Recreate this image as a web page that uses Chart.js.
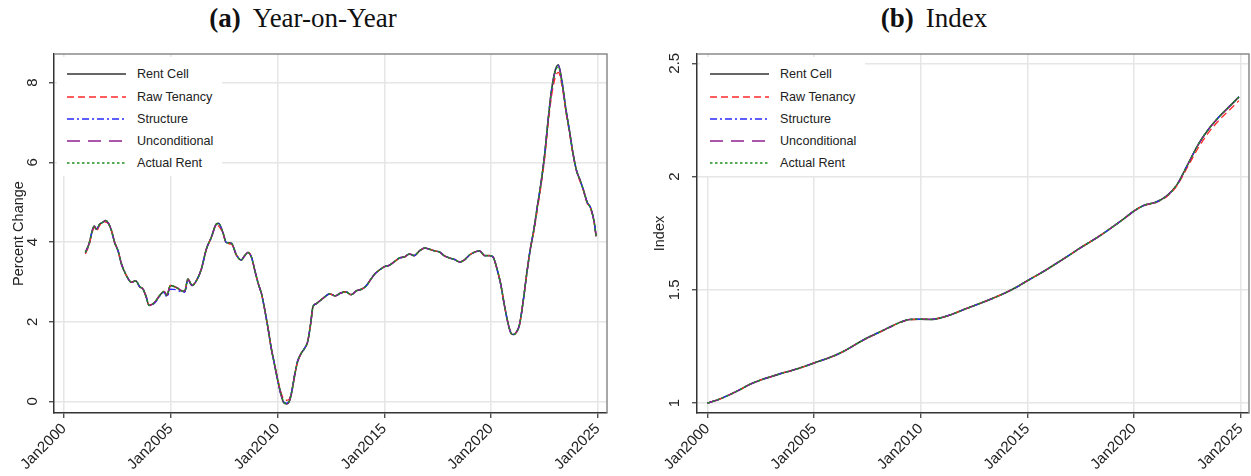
<!DOCTYPE html>
<html>
<head>
<meta charset="utf-8">
<script src="https://cdn.jsdelivr.net/npm/chart.js@4.4.1/dist/chart.umd.min.js"></script>
<style>
  html, body { margin: 0; padding: 0; background: #fff; }
  body { width: 1251px; height: 476px; position: relative; overflow: hidden; font-family: 'Liberation Sans', Arial, sans-serif; }
  .panel-title { position: absolute; top: 2px; font-family: 'Liberation Serif', 'Times New Roman', serif; font-size: 27px; line-height: 32px; color: #111; white-space: nowrap; transform: translateX(-50%); }
  .panel-title b { margin-right: 0.45em; }
  canvas { position: absolute; top: 40px; }
  .legend { position: absolute; width: 165px; height: 119px; background: #fff; }
  .legend-row { position: absolute; left: 0; width: 165px; height: 22px; }
  .legend-row svg { position: absolute; left: 10px; top: 9px; }
  .legend-row span { position: absolute; left: 80px; top: 0; line-height: 22px; font-size: 12.6px; color: #222; white-space: nowrap; }
</style>
</head>
<body>
<div class="panel-title" style="left:303px"><b>(a)</b>Year-on-Year</div>
<div class="panel-title" style="left:934px"><b>(b)</b>Index</div>
<canvas id="yoyChart" width="620" height="436" style="left:0"></canvas>
<canvas id="indexChart" width="621" height="436" style="left:630px"></canvas>

<script>
// Series
const seriesNames = ['Rent Cell', 'Raw Tenancy', 'Structure', 'Unconditional', 'Actual Rent'];
const seriesColors = ['#333333', '#ff2a2a', '#2a2aff', '#8e1f8e', '#1f8f1f'];
const seriesDash = [[], [7, 4], [7, 3, 2, 3], [13, 8], [2.5, 2.5]];
const seriesWidths = [1.6, 1.3, 1.3, 1.3, 1.4];

// (a) Year-on-Year, percent change (dates in decimal years)
const yoyDates = [
  2001.00, 2001.17, 2001.33, 2001.42, 2001.52, 2001.67, 2001.83, 2001.94,
  2002.10, 2002.22, 2002.37, 2002.53, 2002.69, 2002.92,
  2003.16, 2003.36, 2003.54, 2003.70, 2003.85, 2003.98,
  2004.25, 2004.48, 2004.68, 2004.82, 2004.98,
  2005.26, 2005.50, 2005.65, 2005.80,
  2006.00, 2006.20, 2006.43, 2006.67, 2006.90,
  2007.13, 2007.24, 2007.44, 2007.60, 2007.84,
  2008.07, 2008.30, 2008.45, 2008.61, 2008.78, 2008.93,
  2009.10, 2009.25, 2009.40, 2009.55, 2009.70, 2009.85,
  2010.00, 2010.15, 2010.30, 2010.42, 2010.55, 2010.67, 2010.80, 2010.94,
  2011.10, 2011.25, 2011.41, 2011.55, 2011.66, 2011.80, 2011.97,
  2012.20, 2012.44, 2012.70, 2012.95,
  2013.20, 2013.45, 2013.70, 2013.95,
  2014.15, 2014.35, 2014.55, 2014.78,
  2015.00, 2015.24, 2015.50, 2015.71, 2015.95,
  2016.18, 2016.40, 2016.65, 2016.90,
  2017.12, 2017.35, 2017.59, 2017.80,
  2018.06, 2018.30, 2018.53, 2018.75,
  2019.00, 2019.20, 2019.46, 2019.70, 2019.93,
  2020.10, 2020.25, 2020.45, 2020.63, 2020.80, 2020.95,
  2021.05, 2021.20, 2021.33, 2021.50, 2021.67, 2021.83,
  2022.00, 2022.17, 2022.33, 2022.50, 2022.67, 2022.83,
  2023.00, 2023.15, 2023.33, 2023.50, 2023.67, 2023.83,
  2024.00, 2024.17, 2024.33, 2024.50, 2024.67, 2024.83, 2024.92
];
const yoyRentCell = [
  3.74, 3.95, 4.30, 4.40, 4.32, 4.45, 4.50, 4.54,
  4.45, 4.29, 3.99, 3.78, 3.45, 3.16,
  2.99, 3.03, 2.88, 2.82, 2.62, 2.41,
  2.49, 2.66, 2.76, 2.66, 2.91,
  2.86, 2.78, 2.76, 3.07,
  2.91, 3.03, 3.32, 3.83, 4.12,
  4.45, 4.47, 4.24, 3.99, 3.97,
  3.68, 3.55, 3.65, 3.74, 3.62, 3.30,
  2.95, 2.70, 2.30, 1.85, 1.35, 0.95,
  0.55, 0.20, -0.04, -0.06, 0.00, 0.25, 0.65, 1.00,
  1.20, 1.32, 1.50, 1.95, 2.38, 2.45, 2.52,
  2.62, 2.70, 2.65, 2.72,
  2.75, 2.68, 2.78, 2.82,
  2.90, 3.05, 3.20, 3.30,
  3.38, 3.42, 3.52, 3.60, 3.63,
  3.70, 3.66, 3.78, 3.85,
  3.82, 3.78, 3.75, 3.66,
  3.60, 3.56, 3.50, 3.55,
  3.68, 3.74, 3.78, 3.66, 3.66,
  3.62, 3.38, 2.95, 2.40, 1.95, 1.70,
  1.68, 1.75, 1.92, 2.50, 3.20, 3.80,
  4.30, 4.90, 5.45, 6.15, 7.05, 7.80,
  8.30, 8.45, 8.00, 7.35, 6.80, 6.25,
  5.80, 5.55, 5.30, 5.00, 4.85, 4.50, 4.15
];
const yoyRawTenancy = [
  3.70, 3.92, 4.26, 4.36, 4.28, 4.42, 4.47, 4.50,
  4.45, 4.29, 3.99, 3.78, 3.45, 3.16,
  2.99, 3.03, 2.88, 2.82, 2.62, 2.41,
  2.49, 2.66, 2.76, 2.66, 2.91,
  2.86, 2.78, 2.76, 3.07,
  2.91, 3.03, 3.32, 3.83, 4.12,
  4.42, 4.40, 4.22, 3.97, 3.95,
  3.68, 3.55, 3.65, 3.74, 3.62, 3.30,
  2.95, 2.70, 2.30, 1.85, 1.35, 0.95,
  0.58, 0.25, 0.05, 0.03, 0.06, 0.28, 0.66, 1.00,
  1.20, 1.32, 1.50, 1.95, 2.38, 2.45, 2.52,
  2.62, 2.70, 2.65, 2.72,
  2.75, 2.68, 2.78, 2.82,
  2.90, 3.05, 3.20, 3.30,
  3.38, 3.42, 3.52, 3.60, 3.63,
  3.70, 3.66, 3.78, 3.85,
  3.82, 3.78, 3.75, 3.66,
  3.60, 3.56, 3.50, 3.55,
  3.68, 3.74, 3.78, 3.66, 3.66,
  3.62, 3.38, 2.95, 2.40, 1.95, 1.70,
  1.68, 1.75, 1.92, 2.50, 3.20, 3.80,
  4.25, 4.82, 5.38, 6.05, 6.95, 7.65,
  8.12, 8.26, 7.90, 7.28, 6.75, 6.22,
  5.78, 5.52, 5.28, 4.98, 4.83, 4.48, 4.12
];
const yoyStructure = [
  3.74, 3.95, 4.30, 4.40, 4.32, 4.45, 4.50, 4.54,
  4.45, 4.29, 3.99, 3.78, 3.45, 3.16,
  2.99, 3.03, 2.88, 2.82, 2.62, 2.41,
  2.47, 2.64, 2.74, 2.62, 2.82,
  2.80, 2.75, 2.74, 3.04,
  2.91, 3.03, 3.32, 3.83, 4.12,
  4.45, 4.47, 4.24, 3.99, 3.97,
  3.68, 3.55, 3.65, 3.74, 3.62, 3.30,
  2.95, 2.70, 2.30, 1.85, 1.35, 0.95,
  0.55, 0.18, -0.02, -0.04, 0.02, 0.28, 0.68, 1.02,
  1.20, 1.32, 1.50, 1.95, 2.38, 2.45, 2.52,
  2.62, 2.70, 2.65, 2.72,
  2.75, 2.68, 2.78, 2.82,
  2.90, 3.05, 3.20, 3.30,
  3.38, 3.42, 3.52, 3.60, 3.63,
  3.70, 3.66, 3.78, 3.85,
  3.82, 3.78, 3.75, 3.66,
  3.60, 3.56, 3.50, 3.55,
  3.68, 3.74, 3.78, 3.66, 3.66,
  3.62, 3.38, 2.95, 2.40, 1.95, 1.70,
  1.68, 1.75, 1.92, 2.50, 3.20, 3.80,
  4.30, 4.90, 5.45, 6.15, 7.05, 7.80,
  8.28, 8.43, 8.00, 7.35, 6.80, 6.25,
  5.80, 5.55, 5.30, 5.00, 4.85, 4.50, 4.15
];
const yoyUnconditional = [
  3.74, 3.95, 4.30, 4.40, 4.32, 4.45, 4.50, 4.54,
  4.45, 4.29, 3.99, 3.78, 3.45, 3.16,
  2.99, 3.03, 2.88, 2.82, 2.62, 2.41,
  2.49, 2.66, 2.76, 2.66, 2.91,
  2.86, 2.78, 2.76, 3.07,
  2.91, 3.03, 3.32, 3.83, 4.12,
  4.45, 4.47, 4.24, 3.99, 3.97,
  3.68, 3.55, 3.65, 3.74, 3.62, 3.30,
  2.95, 2.70, 2.30, 1.85, 1.35, 0.95,
  0.55, 0.20, -0.04, -0.06, 0.00, 0.25, 0.65, 1.00,
  1.20, 1.32, 1.50, 1.95, 2.38, 2.45, 2.52,
  2.62, 2.70, 2.65, 2.72,
  2.75, 2.68, 2.78, 2.82,
  2.90, 3.05, 3.20, 3.30,
  3.38, 3.42, 3.52, 3.60, 3.63,
  3.70, 3.66, 3.78, 3.85,
  3.82, 3.78, 3.75, 3.66,
  3.60, 3.56, 3.50, 3.55,
  3.68, 3.74, 3.78, 3.66, 3.66,
  3.62, 3.38, 2.95, 2.40, 1.95, 1.70,
  1.68, 1.75, 1.92, 2.50, 3.20, 3.80,
  4.30, 4.90, 5.45, 6.15, 7.05, 7.80,
  8.28, 8.42, 7.98, 7.34, 6.80, 6.25,
  5.80, 5.55, 5.30, 5.00, 4.85, 4.50, 4.15
];
const yoyActualRent = [
  3.74, 3.95, 4.30, 4.40, 4.32, 4.45, 4.50, 4.54,
  4.45, 4.29, 3.99, 3.78, 3.45, 3.16,
  2.99, 3.03, 2.88, 2.82, 2.62, 2.41,
  2.49, 2.66, 2.76, 2.66, 2.91,
  2.86, 2.78, 2.76, 3.07,
  2.91, 3.03, 3.32, 3.83, 4.12,
  4.45, 4.47, 4.24, 3.99, 3.97,
  3.68, 3.55, 3.65, 3.74, 3.62, 3.30,
  2.95, 2.70, 2.30, 1.85, 1.35, 0.95,
  0.56, 0.22, -0.02, -0.05, 0.01, 0.26, 0.66, 1.01,
  1.20, 1.32, 1.50, 1.95, 2.38, 2.45, 2.52,
  2.62, 2.70, 2.65, 2.72,
  2.75, 2.68, 2.78, 2.82,
  2.90, 3.05, 3.20, 3.30,
  3.38, 3.42, 3.52, 3.60, 3.63,
  3.70, 3.66, 3.78, 3.85,
  3.82, 3.78, 3.75, 3.66,
  3.60, 3.56, 3.50, 3.55,
  3.68, 3.74, 3.78, 3.66, 3.66,
  3.62, 3.38, 2.95, 2.40, 1.95, 1.70,
  1.68, 1.75, 1.92, 2.50, 3.20, 3.80,
  4.30, 4.90, 5.45, 6.15, 7.05, 7.80,
  8.27, 8.40, 7.98, 7.33, 6.79, 6.24,
  5.80, 5.55, 5.30, 5.00, 4.85, 4.50, 4.15
];

// (b) Index, Jan2000 = 1
const indexDates = [
  2000.0, 2000.5, 2001.0, 2001.5, 2002.0, 2002.5, 2003.0, 2003.5, 2004.0, 2004.5,
  2005.0, 2005.5, 2006.0, 2006.5, 2007.0, 2007.5, 2008.0, 2008.5, 2009.0, 2009.5,
  2010.0, 2010.5, 2011.0, 2011.5, 2012.0, 2012.5, 2013.0, 2013.5, 2014.0, 2014.5,
  2015.0, 2015.5, 2016.0, 2016.5, 2017.0, 2017.5, 2018.0, 2018.5, 2019.0, 2019.5,
  2020.0, 2020.5, 2021.0, 2021.5, 2022.0, 2022.5, 2023.0, 2023.5, 2024.0, 2024.5,
  2024.92
];
const idxRentCell = [
  1.000, 1.015, 1.035, 1.058, 1.083, 1.102, 1.117, 1.132, 1.145, 1.160,
  1.177, 1.193, 1.211, 1.234, 1.262, 1.288, 1.310, 1.333, 1.355, 1.369,
  1.370, 1.369, 1.378, 1.393, 1.412, 1.430, 1.448, 1.467, 1.488, 1.512,
  1.540, 1.567, 1.595, 1.625, 1.655, 1.686, 1.715, 1.745, 1.778, 1.812,
  1.848, 1.874, 1.886, 1.912, 1.962, 2.050, 2.140, 2.210, 2.265, 2.312,
  2.352
];
const idxRawTenancy = [
  1.000, 1.015, 1.035, 1.058, 1.083, 1.102, 1.117, 1.132, 1.145, 1.160,
  1.177, 1.193, 1.211, 1.234, 1.261, 1.287, 1.309, 1.332, 1.354, 1.368,
  1.370, 1.369, 1.378, 1.393, 1.412, 1.430, 1.448, 1.467, 1.488, 1.512,
  1.540, 1.567, 1.595, 1.625, 1.655, 1.686, 1.715, 1.745, 1.778, 1.812,
  1.848, 1.873, 1.884, 1.909, 1.958, 2.040, 2.125, 2.195, 2.250, 2.296,
  2.335
];
const idxStructure = [
  1.000, 1.015, 1.035, 1.058, 1.083, 1.102, 1.117, 1.132, 1.145, 1.160,
  1.177, 1.193, 1.211, 1.234, 1.262, 1.288, 1.310, 1.333, 1.355, 1.369,
  1.370, 1.369, 1.378, 1.393, 1.412, 1.430, 1.448, 1.467, 1.488, 1.512,
  1.540, 1.567, 1.595, 1.625, 1.655, 1.686, 1.715, 1.745, 1.778, 1.812,
  1.848, 1.874, 1.886, 1.912, 1.962, 2.050, 2.140, 2.210, 2.265, 2.312,
  2.352
];
const idxUnconditional = [
  1.000, 1.015, 1.035, 1.058, 1.083, 1.102, 1.117, 1.132, 1.145, 1.160,
  1.177, 1.193, 1.211, 1.234, 1.262, 1.288, 1.310, 1.333, 1.355, 1.369,
  1.370, 1.369, 1.378, 1.393, 1.412, 1.430, 1.448, 1.467, 1.488, 1.512,
  1.540, 1.567, 1.595, 1.625, 1.655, 1.686, 1.715, 1.745, 1.778, 1.812,
  1.848, 1.874, 1.886, 1.912, 1.962, 2.049, 2.139, 2.209, 2.264, 2.311,
  2.351
];
const idxActualRent = [
  1.000, 1.015, 1.035, 1.058, 1.083, 1.102, 1.117, 1.132, 1.145, 1.160,
  1.177, 1.193, 1.211, 1.234, 1.262, 1.288, 1.310, 1.333, 1.355, 1.369,
  1.370, 1.369, 1.378, 1.393, 1.412, 1.430, 1.448, 1.467, 1.488, 1.512,
  1.540, 1.567, 1.595, 1.625, 1.655, 1.686, 1.715, 1.745, 1.778, 1.812,
  1.848, 1.874, 1.886, 1.912, 1.962, 2.050, 2.140, 2.210, 2.265, 2.312,
  2.352
];

// Tick spacing
const yearTickStep = 5;
const yoyTickStep = 2;
const indexTickStep = 0.5;

Chart.defaults.font.family = "'Liberation Sans', Arial, sans-serif";
Chart.defaults.color = '#222';

// top and right edges of the plot region
const frameLines = {
    id: 'frameLines',
    afterDraw(chart) {
        const { ctx, chartArea: a } = chart;
        ctx.save();
        ctx.strokeStyle = '#8a8a8a';
        ctx.lineWidth = 1.5;
        ctx.beginPath();
        ctx.moveTo(a.left, a.top);
        ctx.lineTo(a.right, a.top);
        ctx.lineTo(a.right, a.bottom);
        ctx.stroke();
        ctx.restore();
    }
};

function buildDatasets(valueLists) {
    return valueLists.map((vals, i) => ({
        label: seriesNames[i],
        data: vals,
        borderColor: seriesColors[i],
        borderDash: seriesDash[i],
        borderWidth: seriesWidths[i],
        pointRadius: 0,
        fill: false,
        cubicInterpolationMode: 'monotone',
        order: seriesNames.length - i
    }));
}

function makeChart(canvasId, labels, valueLists, cfg) {
    const gridOpts = { color: '#e6e6e6', lineWidth: 1.5, tickColor: '#333', tickLength: 5, tickWidth: 1.2 };
    return new Chart(document.getElementById(canvasId), {
        type: 'line',
        data: { labels: labels, datasets: buildDatasets(valueLists) },
        plugins: [frameLines],
        options: {
            responsive: false,
            animation: false,
            events: [],
            layout: { padding: { top: 14, right: cfg.padRight, left: 0, bottom: 0 } },
            plugins: { legend: { display: false }, tooltip: { enabled: false } },
            scales: {
                x: {
                    type: 'linear',
                    min: cfg.xMin,
                    max: cfg.xMax,
                    afterFit: s => {
                        s.height = 63;
                        s.paddingLeft = 0;
                        s.paddingRight = 0;
                    },
                    grid: gridOpts,
                    border: { color: '#333', width: 1.5 },
                    ticks: {
                        stepSize: yearTickStep,
                        includeBounds: false,
                        autoSkip: false,
                        minRotation: 45,
                        maxRotation: 45,
                        padding: 2,
                        font: { size: 15 },
                        callback: v => 'Jan' + v
                    }
                },
                y: {
                    min: cfg.yMin,
                    max: cfg.yMax,
                    afterFit: s => {
                        s.width = cfg.yWidth;
                        s.paddingTop = 0;
                        s.paddingBottom = 0;
                    },
                    grid: gridOpts,
                    border: { color: '#333', width: 1.5 },
                    title: {
                        display: true,
                        text: cfg.yTitle,
                        font: { size: 14.5 },
                        padding: { top: cfg.titlePad, bottom: 0 }
                    },
                    ticks: {
                        stepSize: cfg.yStep,
                        includeBounds: false,
                        minRotation: 90,
                        maxRotation: 90,
                        crossAlign: 'center',
                        padding: cfg.tickPad,
                        font: { size: 15 },
                        callback: v => String(v)
                    }
                }
            }
        }
    });
}

function addLegend(chart, canvasLeft) {
    const box = document.createElement('div');
    box.className = 'legend';
    box.style.left = (canvasLeft + chart.chartArea.left + 3) + 'px';
    box.style.top = (40 + chart.chartArea.top + 3) + 'px';
    seriesNames.forEach((name, i) => {
        const row = document.createElement('div');
        row.className = 'legend-row';
        row.style.top = (6.3 + i * 22.25) + 'px';
        const dash = seriesDash[i].length ? seriesDash[i].join(' ') : 'none';
        row.innerHTML =
            '<svg width="60" height="4"><line x1="0" y1="2" x2="59" y2="2" stroke="' + seriesColors[i] +
            '" stroke-width="' + seriesWidths[i] + '" stroke-dasharray="' + dash + '"/></svg>' +
            '<span>' + name + '</span>';
        box.appendChild(row);
    });
    document.body.appendChild(box);
}

const yoyChart = makeChart('yoyChart', yoyDates,
    [yoyRentCell, yoyRawTenancy, yoyStructure, yoyUnconditional, yoyActualRent],
    { xMin: 1999.53, xMax: 2025.43, yMin: -0.29, yMax: 8.72, yStep: yoyTickStep,
      yWidth: 54, padRight: 13, yTitle: 'Percent Change', titlePad: 10.3, tickPad: 11.8 });

const indexChart = makeChart('indexChart', indexDates,
    [idxRentCell, idxRawTenancy, idxStructure, idxUnconditional, idxActualRent],
    { xMin: 1999.51, xMax: 2025.39, yMin: 0.956, yMax: 2.541, yStep: indexTickStep,
      yWidth: 67, padRight: 2, yTitle: 'Index', titlePad: 21.3, tickPad: 6.6 });

addLegend(yoyChart, 0);
addLegend(indexChart, 630);
</script>
</body>
</html>
